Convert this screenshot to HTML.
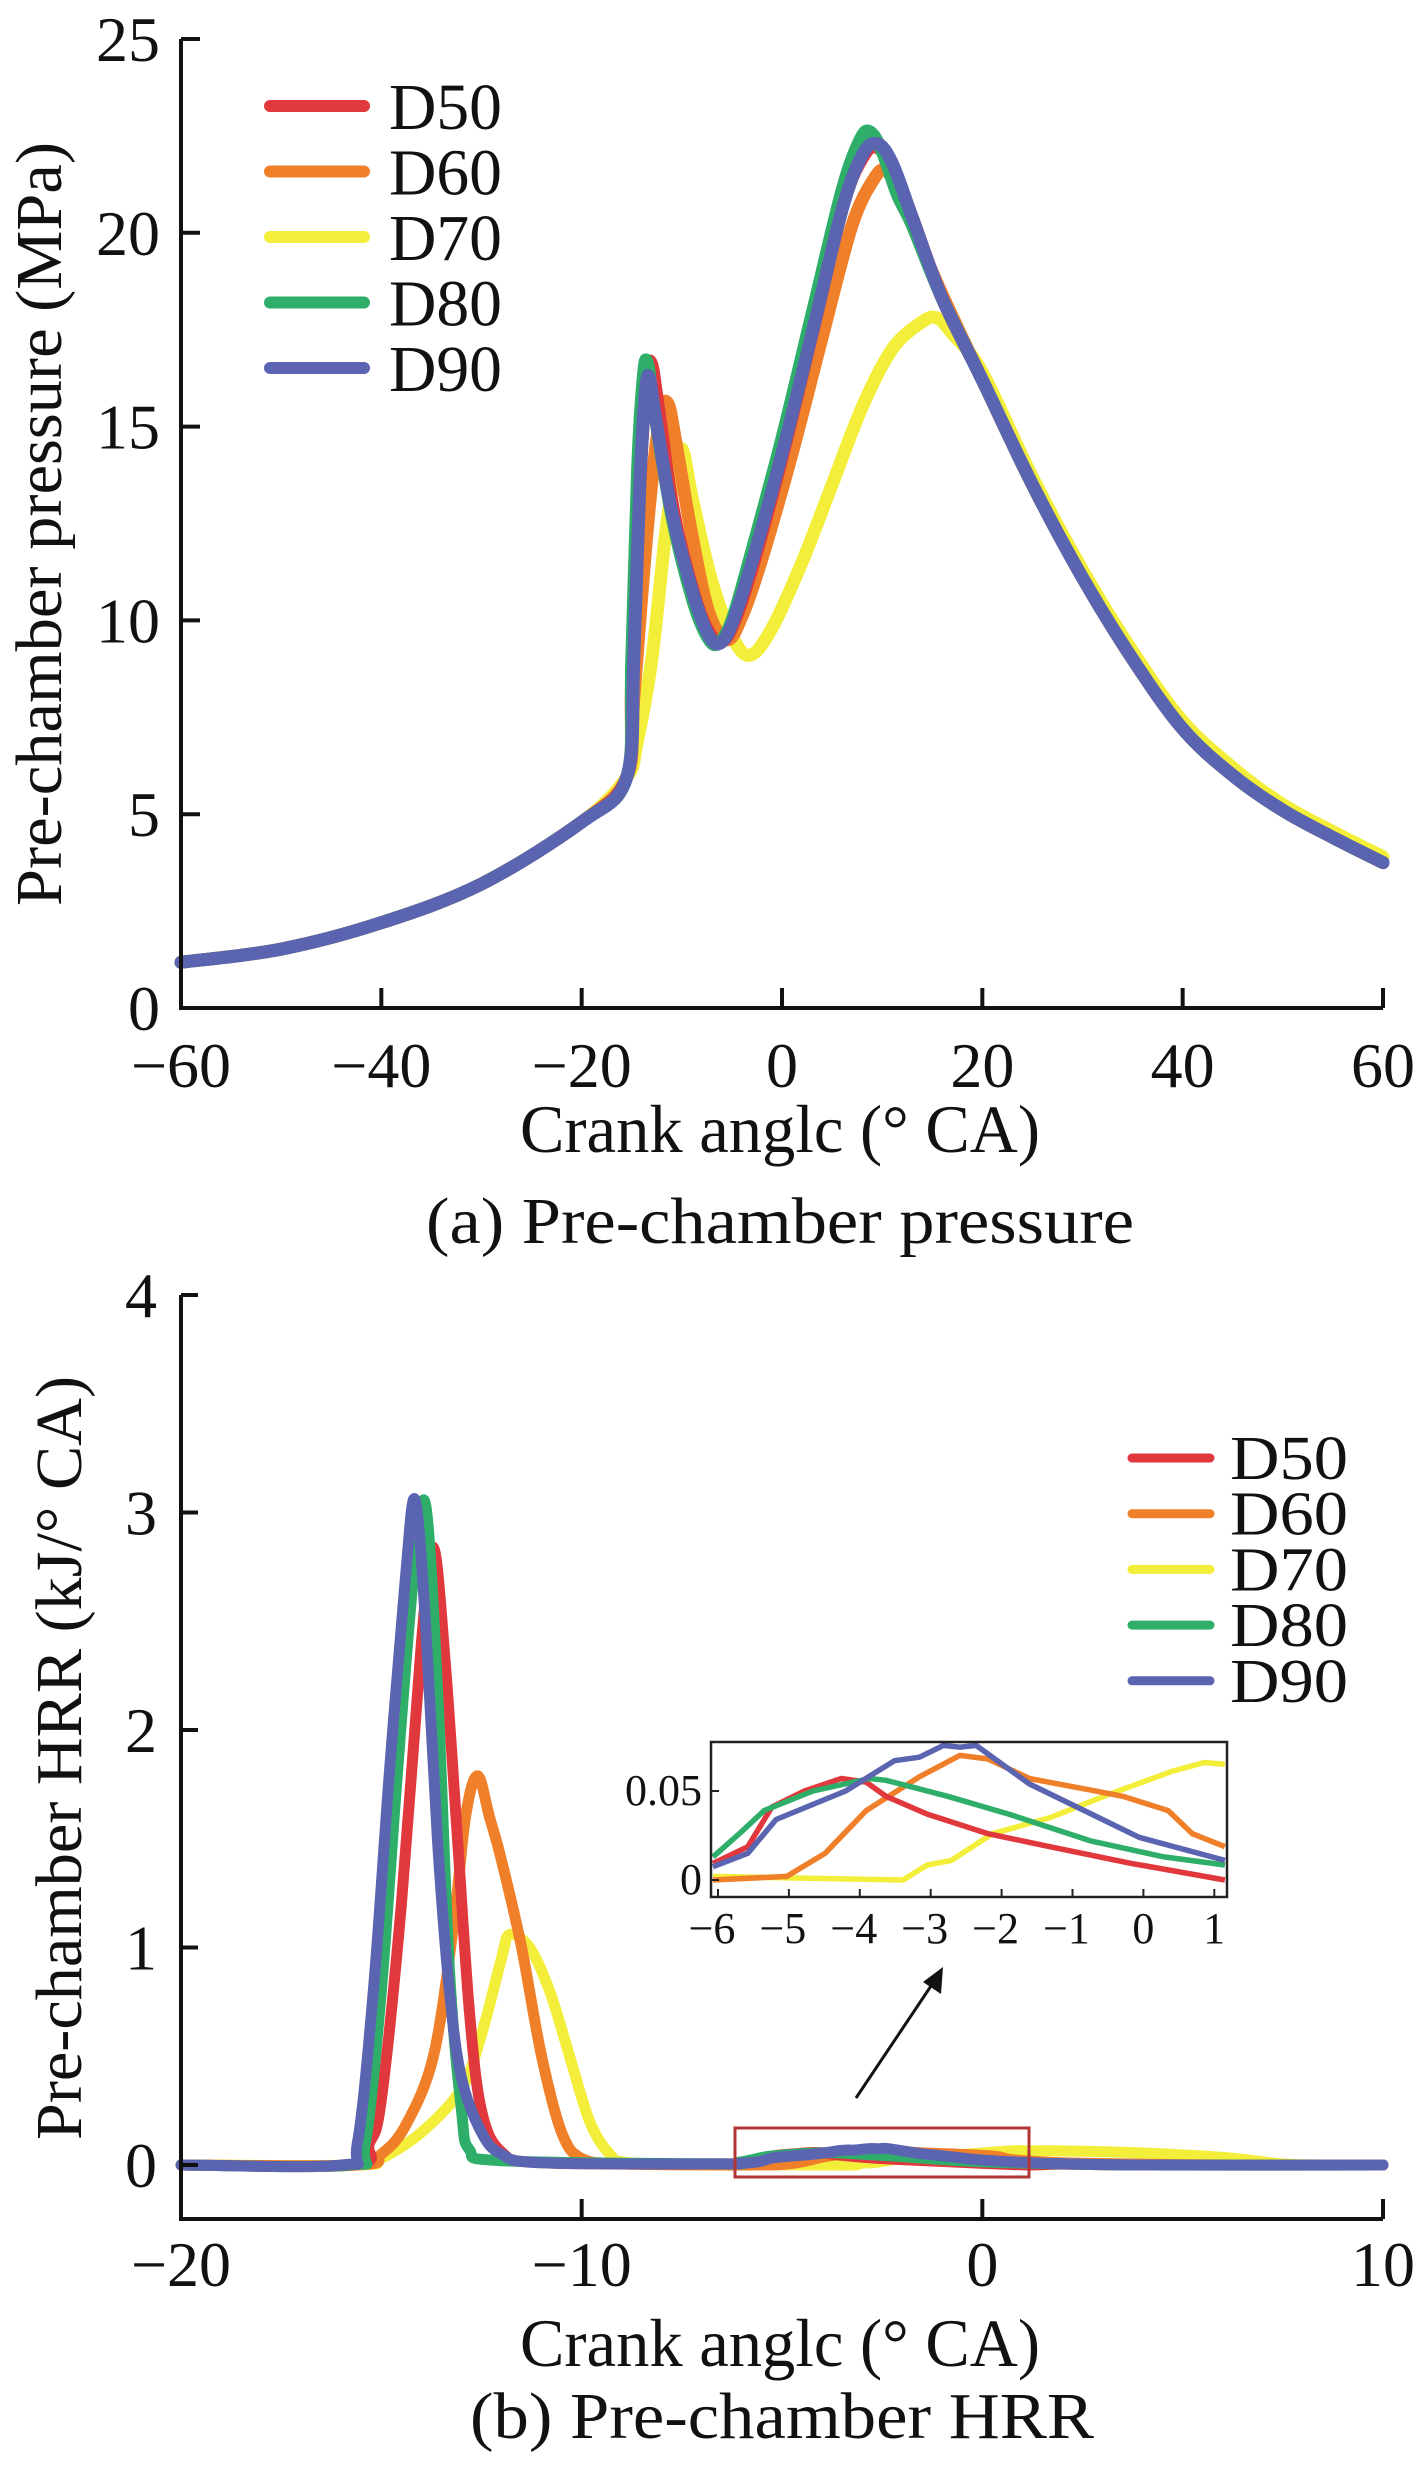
<!DOCTYPE html>
<html><head><meta charset="utf-8"><style>
html,body{margin:0;padding:0;background:#fff}
svg{display:block}
text{font-family:"Liberation Serif",serif;fill:#111}
</style></head><body>
<svg id="s" width="1417" height="2469" viewBox="0 0 1417 2469">
<g id="top"></g>
<g id="bot"></g>
</svg>
<script>
const seriesNames=["D50","D60","D70","D80","D90"];
const seriesColors=["#e0383c","#f07f2a","#f2ee3a","#2fae6a","#5b64b0"];
const pTicksX=[-60,-40,-20,0,20,40,60];
const pTicksY=[0,5,10,15,20,25];
const hTicksX=[-20,-10,0,10];
const hTicksY=[0,1,2,3,4];
const iTicksX=[-6,-5,-4,-3,-2,-1,0,1];
const iTickLabelsY=["0","0.05"];
const iTicksY=[0,0.05];
const comp=[[-60,1.18],[-50,1.52],[-40,2.2],[-30,3.2],[-20,4.8],[-15.5,5.95]];
const decay=[[20,16.2],[25,13.5],[30,11.1],[35,9.0],[40,7.2],[45,6.0],[50,5.1],[55,4.4],[60,3.75]];
const pD50=[[-15,8.5],[-14.2,13.5],[-13.5,16.3],[-13.0,16.6],[-12.4,15.6],[-10.8,12.8],[-8.8,10.7],[-7.3,9.7],[-6.0,9.45],[-4.7,10],[-2.7,11.6],[0.2,14.4],[3.2,17.6],[6.2,20.8],[8.2,22.0],[9.5,22.2],[11,21.7],[13,20.4],[16,18.3]];
const pD60=[[-14.8,8.0],[-13.4,12.5],[-12.2,15.2],[-11.4,15.6],[-10.6,14.6],[-9,12.2],[-7.3,10.2],[-5.5,9.5],[-4,10.1],[-2,11.6],[1,14.3],[4,17.3],[7,20.2],[9.2,21.4],[10.4,21.6],[11.8,21.0],[13.5,19.9],[16,18.4]];
const pD70=[[-14.5,6.8],[-13,9],[-11.5,12.5],[-10.3,14.2],[-9.8,14.3],[-9,13.2],[-7,11],[-5,9.6],[-3.2,9.1],[-1,9.8],[2,11.5],[5,13.5],[8,15.5],[11,17.0],[14,17.7],[15.5,17.8],[17,17.4],[20,16.4],[25,13.7],[30,11.3],[35,9.2],[40,7.4],[45,6.2],[50,5.25],[55,4.55],[60,3.9]];
const pD80=[[-15,9],[-14.4,14],[-13.8,16.4],[-13.4,16.6],[-12.8,15.5],[-11,12.7],[-9,10.6],[-7.5,9.6],[-6.4,9.4],[-5,10],[-3,11.8],[0,14.7],[3,17.9],[6,21.1],[7.8,22.4],[8.8,22.6],[10,22.1],[11.5,21.0],[13,20.2],[16,18.3]];
const pD90=[[-14.8,9],[-14.2,13.5],[-13.6,16.0],[-13.2,16.2],[-12.6,15.2],[-11,12.8],[-9,10.8],[-7.5,9.7],[-6.3,9.4],[-5,9.9],[-3,11.5],[0,14.3],[3,17.4],[6,20.6],[8,22.0],[9.5,22.3],[11,21.8],[13,20.4],[16,18.3]];
const hPeakD50=[[-20,0],[-15.7,0],[-15.3,0.1],[-15,0.3],[-14.5,1.2],[-14.0,2.4],[-13.7,2.84],[-13.4,2.3],[-13.1,1.5],[-12.8,0.7],[-12.5,0.25],[-12,0.06],[-11,0.01],[-6.5,0.005]];
const hPeakD60=[[-20,0],[-15.6,0],[-15,0.05],[-14.4,0.18],[-13.7,0.5],[-13.2,1.1],[-12.9,1.6],[-12.6,1.79],[-12.3,1.6],[-12,1.4],[-11.5,1.0],[-11,0.5],[-10.5,0.15],[-10,0.03],[-9,0.005],[-6.5,0]];
const hPeakD70=[[-20,0],[-15.6,0],[-15,0.03],[-14,0.15],[-13,0.35],[-12.5,0.6],[-12,0.95],[-11.8,1.06],[-11.3,1.0],[-10.8,0.8],[-10.3,0.5],[-9.8,0.2],[-9.3,0.05],[-8.8,0.01],[-6.5,0]];
const hPeakD80=[[-20,0],[-15.8,0],[-15.4,0.1],[-15,0.8],[-14.6,1.8],[-14.2,2.7],[-13.9,3.04],[-13.6,2.2],[-13.3,0.9],[-13.0,0.25],[-12.8,0.07],[-12,0.02],[-6.5,0.005]];
const hPeakD90=[[-20,0],[-16,0],[-15.6,0.1],[-15.2,0.8],[-14.8,1.8],[-14.4,2.7],[-14.16,3.06],[-13.9,2.5],[-13.6,1.5],[-13.3,0.8],[-13.0,0.4],[-12.5,0.15],[-12,0.05],[-11,0.01],[-6.5,0.005]];
const iD50=[[-6.07,0.0093],[-5.58,0.0187],[-5.24,0.041],[-4.78,0.05],[-4.26,0.057],[-3.91,0.055],[-3.63,0.047],[-3.05,0.037],[-2.19,0.026],[-1.32,0.0187],[-0.17,0.0093],[1.15,0]];
const iD60=[[-6.07,0],[-5.03,0.002],[-4.49,0.015],[-3.91,0.039],[-3.16,0.058],[-2.59,0.07],[-2.19,0.068],[-1.61,0.057],[-0.81,0.051],[-0.29,0.047],[0.35,0.039],[0.69,0.026],[1.15,0.0187]];
const iD70=[[-6.07,0.002],[-3.39,0],[-3.05,0.0084],[-2.71,0.011],[-2.13,0.026],[-1.32,0.035],[-0.46,0.0485],[0.4,0.061],[0.86,0.066],[1.15,0.065]];
const iD80=[[-6.07,0.013],[-5.7,0.026],[-5.35,0.039],[-4.66,0.05],[-3.86,0.057],[-3.63,0.056],[-2.76,0.047],[-1.9,0.037],[-0.75,0.022],[0.29,0.013],[1.15,0.0084]];
const iD90=[[-6.07,0.0075],[-5.58,0.015],[-5.18,0.034],[-4.2,0.05],[-3.51,0.067],[-3.16,0.069],[-2.82,0.0756],[-2.59,0.0746],[-2.36,0.0756],[-1.61,0.054],[-1.04,0.043],[-0.06,0.024],[1.15,0.011]];
const tailD50=[[2,0.004],[4,0],[10,0]];
const tailD60=[[2,0.01],[4,0.004],[6,0],[10,0]];
const tailD70=[[2,0.065],[4,0.055],[6,0.035],[7.5,0.005],[8.5,0],[10,0]];
const tailD80=[[2,0.005],[4,0],[10,0]];
const tailD90=[[2,0.006],[4,0],[10,0]];

const NS="http://www.w3.org/2000/svg";
function mk(tag,attrs,parent){const e=document.createElementNS(NS,tag);for(const k in attrs)e.setAttribute(k,attrs[k]);parent.appendChild(e);return e;}
function smooth(pts){let d="M"+pts[0][0].toFixed(1)+","+pts[0][1].toFixed(1);for(let i=0;i<pts.length-1;i++){const p0=pts[Math.max(0,i-1)],p1=pts[i],p2=pts[i+1],p3=pts[Math.min(pts.length-1,i+2)];const c1=[p1[0]+(p2[0]-p0[0])/6,p1[1]+(p2[1]-p0[1])/6],c2=[p2[0]-(p3[0]-p1[0])/6,p2[1]-(p3[1]-p1[1])/6];d+="C"+c1[0].toFixed(1)+","+c1[1].toFixed(1)+" "+c2[0].toFixed(1)+","+c2[1].toFixed(1)+" "+p2[0].toFixed(1)+","+p2[1].toFixed(1);}return d;}
function lin(pts){return "M"+pts.map(p=>p[0].toFixed(1)+","+p[1].toFixed(1)).join("L");}

const T=document.getElementById("top");
const px=v=>181+(v+60)*(1383-181)/120;
const py=v=>1008-v*(1008-39)/25;
const pSeries=[comp.concat(pD50,decay),comp.concat(pD60,decay),comp.concat(pD70),comp.concat(pD80,decay),comp.concat(pD90,decay)];
const drawOrder=[2,1,0,3,4];
drawOrder.forEach(i=>{const p=mk("path",{d:smooth(pSeries[i].map(q=>[px(q[0]),py(q[1])])),fill:"none",stroke:seriesColors[i],"stroke-width":13,"stroke-linejoin":"round","stroke-linecap":"round"},T);

});
let a=mk("path",{d:"M181,39V1008H1383",fill:"none",stroke:"#111","stroke-width":4},T);


pTicksX.forEach(v=>{const l=mk("line",{x1:px(v),x2:px(v),y1:1008,y2:988,stroke:"#111","stroke-width":4},T);


const t=mk("text",{x:px(v),y:1087,"font-size":64,"text-anchor":"middle"},T);t.textContent=(v<0?"\u2212":"")+Math.abs(v);

});
pTicksY.forEach(v=>{const l=mk("line",{x1:181,x2:200,y1:py(v),y2:py(v),stroke:"#111","stroke-width":4},T);


const t=mk("text",{x:160,y:py(v)+22,"font-size":64,"text-anchor":"end"},T);t.textContent=v;

});
seriesNames.forEach((n,i)=>{const y=106+i*65.5;const l=mk("line",{x1:270,x2:364,y1:y,y2:y,stroke:seriesColors[i],"stroke-width":12,"stroke-linecap":"round"},T);


const t=mk("text",{x:389,y:y+23,"font-size":66,textLength:113,lengthAdjust:"spacingAndGlyphs"},T);t.textContent=n;

});
</script>
<script>
(function(){
const B=document.getElementById("bot");
const hx=v=>181+(v+20)*(1383-181)/30;
const hy=v=>2165-v*217.5;
const ix=v=>718+(v+6)*70.9;
const iy=v=>1880-v/0.05*89;
const peaks=[hPeakD50,hPeakD60,hPeakD70,hPeakD80,hPeakD90];
const ins=[iD50,iD60,iD70,iD80,iD90];
const tails=[tailD50,tailD60,tailD70,tailD80,tailD90];
const order=[2,1,0,3,4];
order.forEach(i=>{const pts=peaks[i].concat(ins[i],tails[i]);const p=mk("path",{d:smooth(pts.map(q=>[hx(q[0]),hy(q[1])])),fill:"none",stroke:seriesColors[i],"stroke-width":11,"stroke-linejoin":"round","stroke-linecap":"round"},B);

});
let a=mk("path",{d:"M181,1295V2219H1383",fill:"none",stroke:"#111","stroke-width":4},B);


hTicksX.forEach(v=>{const l=mk("line",{x1:hx(v),x2:hx(v),y1:2219,y2:2199,stroke:"#111","stroke-width":4},B);


const t=mk("text",{x:hx(v),y:2286,"font-size":64,"text-anchor":"middle"},B);t.textContent=(v<0?"\u2212":"")+Math.abs(v);

});
hTicksY.forEach(v=>{const l=mk("line",{x1:181,x2:198,y1:hy(v),y2:hy(v),stroke:"#111","stroke-width":4},B);


const t=mk("text",{x:157,y:hy(v)+22,"font-size":64,"text-anchor":"end"},B);t.textContent=v;

});
seriesNames.forEach((n,i)=>{const y=1458+i*55.7;const l=mk("line",{x1:1132,x2:1210,y1:y,y2:y,stroke:seriesColors[i],"stroke-width":9,"stroke-linecap":"round"},B);


const t=mk("text",{x:1230,y:y+21,"font-size":62,textLength:118,lengthAdjust:"spacingAndGlyphs"},B);t.textContent=n;

});
let r=mk("rect",{x:735,y:2128,width:294,height:49,fill:"none",stroke:"#b03535","stroke-width":3},B);


let ar=mk("line",{x1:856,y1:2098,x2:935,y2:1980,stroke:"#111","stroke-width":3},B);


let ah=mk("polygon",{points:"943,1967 941,1994 923,1982",fill:"#111"},B);


const G=mk("g",{},B);


const cp=mk("clipPath",{id:"ic"},G);mk("rect",{x:712,y:1743,width:514,height:153},cp);
order.forEach(i=>{const p=mk("path",{d:lin(ins[i].map(q=>[ix(q[0]),iy(q[1])])),fill:"none",stroke:seriesColors[i],"stroke-width":5.5,"stroke-linejoin":"round","clip-path":"url(#ic)"},G);

});
let bx=mk("rect",{x:711,y:1742,width:516,height:155,fill:"none",stroke:"#222","stroke-width":2.5},G);


iTicksX.forEach(v=>{const l=mk("line",{x1:ix(v),x2:ix(v),y1:1897,y2:1889,stroke:"#222","stroke-width":2},G);


const t=mk("text",{x:ix(v)-(v<0?6:0),y:1943,"font-size":44,"text-anchor":"middle"},G);t.textContent=(v<0?"\u2212":"")+Math.abs(v);

});
iTicksY.forEach((v,k)=>{const l=mk("line",{x1:711,x2:719,y1:iy(v),y2:iy(v),stroke:"#222","stroke-width":2},G);


const t=mk("text",{x:702,y:iy(v)+14,"font-size":44,"text-anchor":"end"},G);t.textContent=iTickLabelsY[k];

});
})();
</script>
<script>
const S=document.getElementById("s");
function lab(txt,x,y,fs,len,name,rot){const t=mk("text",{x:x,y:y,"font-size":fs,"text-anchor":"middle",textLength:len,lengthAdjust:"spacingAndGlyphs"},S);if(rot)t.setAttribute("transform","rotate(-90 "+x+" "+y+")");t.textContent=txt;

}
lab("Crank anglc (\u00b0 CA)",780,1152,68,520,"pressure-x-axis-title");
lab("(a) Pre-chamber pressure",780,1243,66,708,"pressure-caption");
lab("Pre-chamber pressure (MPa)",61,524,66,764,"pressure-y-axis-title",true);
lab("Crank anglc (\u00b0 CA)",780,2366,68,520,"hrr-x-axis-title");
lab("(b) Pre-chamber HRR",782,2438,66,624,"hrr-caption");
lab("Pre-chamber HRR (kJ/\u00b0 CA)",81,1758,66,764,"hrr-y-axis-title",true);
</script>
</body></html>
